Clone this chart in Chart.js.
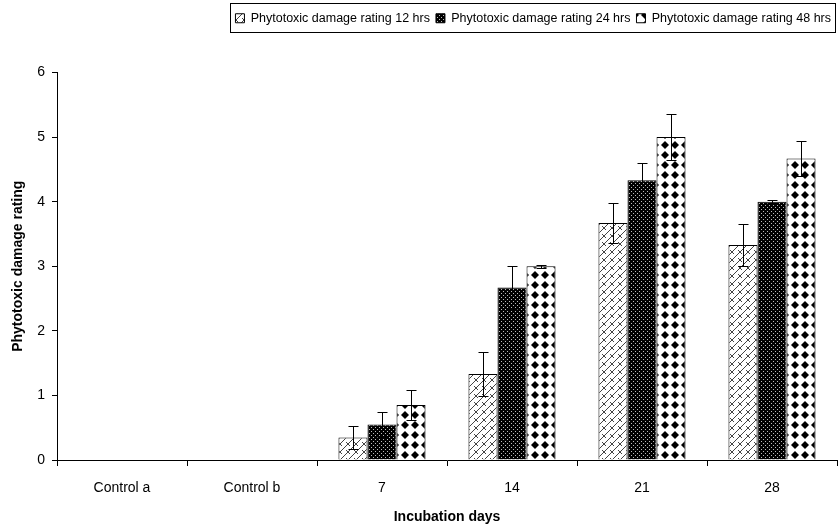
<!DOCTYPE html>
<html>
<head>
<meta charset="utf-8">
<script src="https://cdn.jsdelivr.net/npm/chart.js@4.4.0/dist/chart.umd.min.js"></script>
<style>
    html, body { margin: 0; padding: 0; background: #fff; }
    #wrap { width: 839px; height: 526px; position: relative; }
</style>
</head>
<body>
<div id="wrap"><canvas id="chart"></canvas></div>
<script>
// Phytotoxic damage rating by incubation days
const categories = ['Control a', 'Control b', '7', '14', '21', '28'];
const seriesNames = ['Phytotoxic damage rating 12 hrs', 'Phytotoxic damage rating 24 hrs', 'Phytotoxic damage rating 48 hrs'];
const rating12 = [0, 0, 0.35, 1.33, 3.67, 3.33];
const rating24 = [0, 0, 0.55, 2.67, 4.33, 4.0];
const rating48 = [0, 0, 0.85, 3.0, 5.0, 4.67];
const err12 = [0, 0, 0.18, 0.34, 0.31, 0.33];
const err24 = [0, 0, 0.2, 0.33, 0.27, 0.02];
const err48 = [0, 0, 0.23, 0.02, 0.36, 0.27];
const yTicks = [0, 1, 2, 3, 4, 5, 6];

const FONT = '"Liberation Sans", Arial, sans-serif';

// fill patterns, drawn on small tiles
function makePattern(kind) {
    const c = document.createElement('canvas');
    const g = c.getContext('2d');
    if (kind === 'brick') {
        c.width = 8; c.height = 8;
        g.fillStyle = '#fff';
        g.fillRect(0, 0, 8, 8);
        g.strokeStyle = '#444';
        g.lineWidth = 1;
        g.beginPath();
        g.moveTo(0, 8); g.lineTo(8, 0);
        g.moveTo(2, 2); g.lineTo(6, 6);
        g.stroke();
    } else if (kind === 'dots') {
        c.width = 4; c.height = 4;
        g.fillStyle = '#000';
        g.fillRect(0, 0, 4, 4);
        g.fillStyle = '#bbb';
        g.fillRect(1, 1, 1, 1);
        g.fillRect(3, 3, 1, 1);
    } else {
        c.width = 10; c.height = 10;
        g.fillStyle = '#fff';
        g.fillRect(0, 0, 10, 10);
        g.fillStyle = '#000';
        g.beginPath();
        g.moveTo(5, 1); g.lineTo(9, 5); g.lineTo(5, 9); g.lineTo(1, 5);
        g.closePath();
        g.fill();
    }
    return g.createPattern(c, 'repeat');
}

const errors = [err12, err24, err48];

// error bars with caps on both ends
const errorBars = {
    id: 'errorBars',
    afterDatasetsDraw(chart) {
        const ctx = chart.ctx;
        const y = chart.scales.y;
        ctx.save();
        ctx.strokeStyle = '#000';
        ctx.lineWidth = 1;
        chart.data.datasets.forEach((ds, i) => {
            const meta = chart.getDatasetMeta(i);
            meta.data.forEach((bar, j) => {
                const e = errors[i][j];
                if (!e) return;
                const v = ds.data[j];
                const x = Math.round(bar.x) + 0.5;
                const top = Math.round(y.getPixelForValue(v + e)) + 0.5;
                const bot = Math.round(y.getPixelForValue(v - e)) + 0.5;
                ctx.beginPath();
                ctx.moveTo(x, top); ctx.lineTo(x, bot);
                ctx.moveTo(x - 5, top); ctx.lineTo(x + 5, top);
                ctx.moveTo(x - 5, bot); ctx.lineTo(x + 5, bot);
                ctx.stroke();
            });
        });
        ctx.restore();
    }
};

// border round the legend and extra room under it
const legendBox = {
    id: 'legendBox',
    afterInit(chart) {
        const lg = chart.legend;
        const fit = lg.fit.bind(lg);
        lg.fit = function () {
            fit();
            this.height += 38;
        };
    },
    afterDraw(chart) {
        const hb = chart.legend.legendHitBoxes;
        if (!hb || !hb.length) return;
        const last = hb[hb.length - 1];
        const left = Math.round(hb[0].left) - 4.5;
        const right = Math.round(last.left + last.width) + 4.5;
        const top = Math.round(hb[0].top) - 8.5;
        const bottom = Math.round(hb[0].top + hb[0].height) + 7.5;
        const ctx = chart.ctx;
        ctx.save();
        ctx.strokeStyle = '#000';
        ctx.lineWidth = 1;
        ctx.strokeRect(left, top, right - left, bottom - top);
        ctx.restore();
    }
};

const ctx = document.getElementById('chart').getContext('2d');
const fills = [makePattern('brick'), makePattern('dots'), makePattern('diamond')];
const values = [rating12, rating24, rating48];

new Chart(ctx, {
    type: 'bar',
    data: {
        labels: categories,
        datasets: seriesNames.map((name, i) => ({
            label: name,
            data: values[i],
            backgroundColor: fills[i],
            borderColor: '#000',
            borderWidth: 1,
            categoryPercentage: 0.67,
            barPercentage: 1.0
        }))
    },
    options: {
        responsive: true,
        maintainAspectRatio: false,
        animation: false,
        devicePixelRatio: 1,
        layout: { padding: { top: 6, right: 2, bottom: 0, left: 10 } },
        plugins: {
            legend: {
                display: true,
                position: 'top',
                align: 'end',
                labels: {
                    boxWidth: 9,
                    boxHeight: 9,
                    padding: 6,
                    color: '#000',
                    font: { family: FONT, size: 12.5 }
                }
            },
            tooltip: { enabled: false }
        },
        scales: {
            x: {
                afterFit(scale) { scale.height = 66; },
                grid: {
                    display: true,
                    drawOnChartArea: false,
                    drawTicks: true,
                    tickLength: 6,
                    color: '#000',
                    offset: true
                },
                border: { display: true, color: '#000', width: 1 },
                ticks: {
                    color: '#000',
                    padding: 14,
                    font: { family: FONT, size: 14 }
                },
                title: {
                    display: true,
                    text: 'Incubation days',
                    color: '#000',
                    padding: { top: 4, bottom: 0 },
                    font: { family: FONT, size: 14, weight: 'bold' }
                }
            },
            y: {
                min: 0,
                max: 6,
                afterFit(scale) { scale.width = 47; },
                afterBuildTicks(scale) {
                    scale.ticks = yTicks.map(v => ({ value: v }));
                },
                grid: {
                    display: true,
                    drawOnChartArea: false,
                    drawTicks: true,
                    tickLength: 5,
                    color: '#000'
                },
                border: { display: true, color: '#000', width: 1 },
                ticks: {
                    color: '#000',
                    padding: 7,
                    font: { family: FONT, size: 14 }
                },
                title: {
                    display: true,
                    text: 'Phytotoxic damage rating',
                    color: '#000',
                    padding: { top: 0, bottom: 8 },
                    font: { family: FONT, size: 14, weight: 'bold' }
                }
            }
        }
    },
    plugins: [errorBars, legendBox]
});
</script>
</body>
</html>
